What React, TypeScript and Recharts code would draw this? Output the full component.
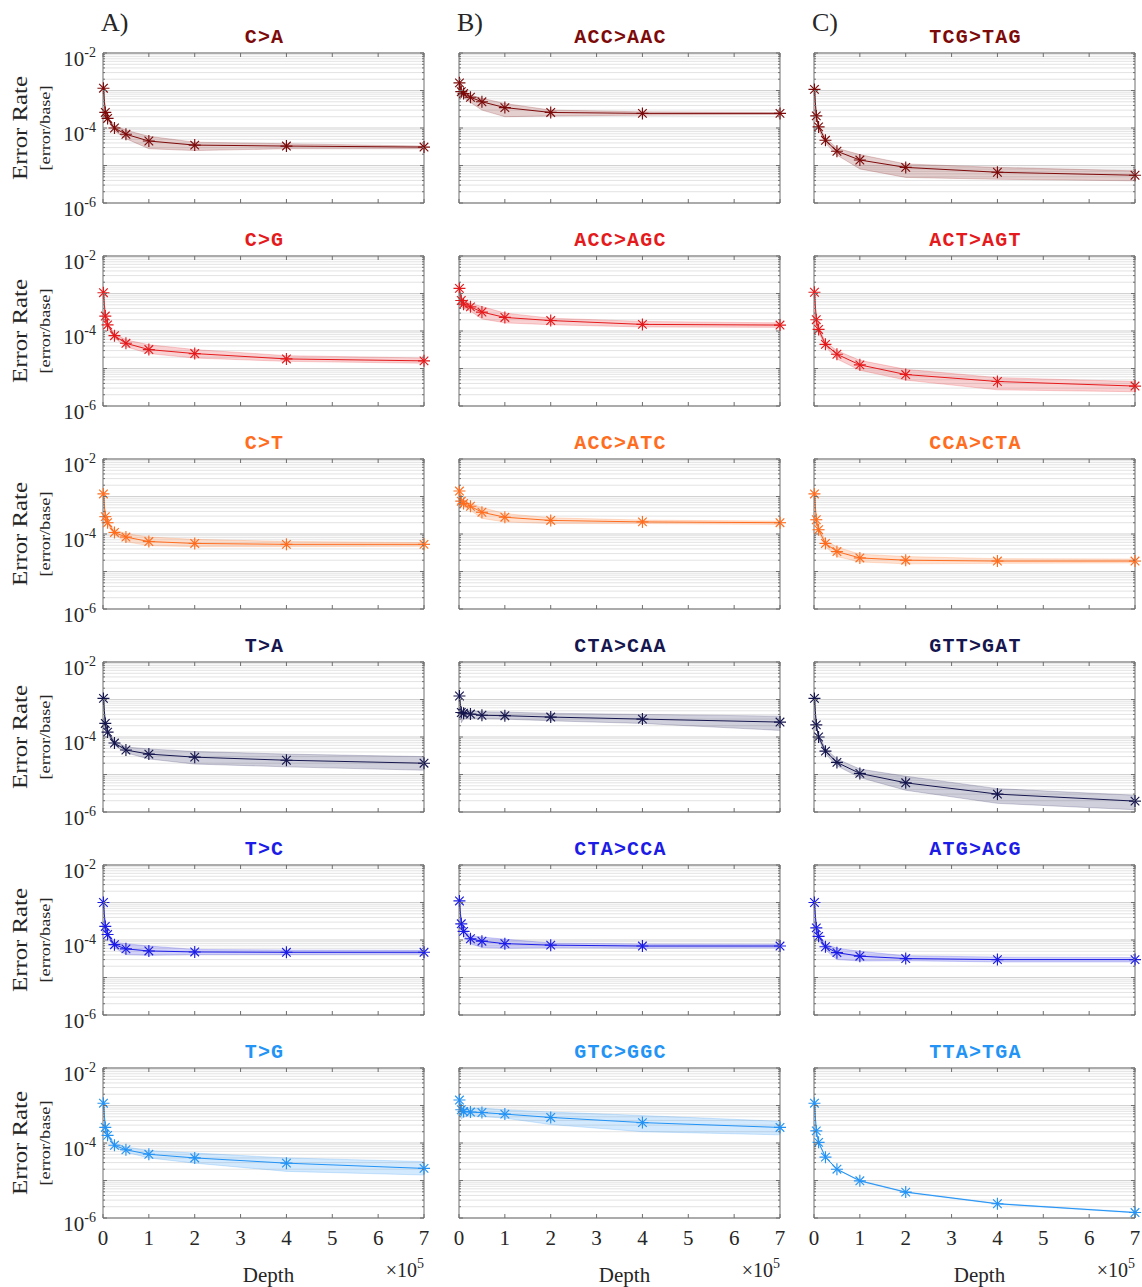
import React from "react";
import { Area, CartesianGrid, ComposedChart, Line, ReferenceArea, XAxis, YAxis } from "recharts";

// sequencing depths (reads) and axis ticks
const DEPTHS = [1000, 5000, 10000, 25000, 50000, 100000, 200000, 400000, 700000];
const X_TICKS = [0, 100000, 200000, 300000, 400000, 500000, 600000, 700000];
const Y_MAJOR = [1e-6, 1e-5, 1e-4, 1e-3, 1e-2];
const Y_MINOR = [1e-6, 1e-5, 1e-4, 1e-3].flatMap((d) => [2, 3, 4, 5, 6, 7, 8, 9].map((m) => m * d));
const Y_ALL = [...Y_MAJOR, ...Y_MINOR].sort((a, b) => a - b);

const ROW_COLORS = ["#7d0a0a", "#e41a1c", "#ff6d1f", "#16164f", "#1c1ce6", "#2393f5"];

// column A: single-base substitutions
const CA_RATE = [1.15e-3, 2.6e-4, 1.8e-4, 1.0e-4, 6.8e-5, 4.5e-5, 3.5e-5, 3.3e-5, 3.1e-5];
const CA_LO = [1.1e-3, 2.4e-4, 1.6e-4, 8.3e-5, 5.2e-5, 2.8e-5, 2.5e-5, 2.8e-5, 2.8e-5];
const CA_HI = [1.2e-3, 2.8e-4, 1.95e-4, 1.18e-4, 8.7e-5, 6.0e-5, 4.2e-5, 3.8e-5, 3.3e-5];

const CG_RATE = [1.05e-3, 2.5e-4, 1.45e-4, 7.5e-5, 4.7e-5, 3.2e-5, 2.5e-5, 1.8e-5, 1.6e-5];
const CG_LO = [1.0e-3, 2.3e-4, 1.3e-4, 6.5e-5, 3.8e-5, 2.5e-5, 1.9e-5, 1.55e-5, 1.38e-5];
const CG_HI = [1.1e-3, 2.7e-4, 1.6e-4, 8.5e-5, 5.8e-5, 4.3e-5, 3.2e-5, 2.2e-5, 1.9e-5];

const CT_RATE = [1.17e-3, 2.9e-4, 2.0e-4, 1.1e-4, 8.3e-5, 6.3e-5, 5.6e-5, 5.3e-5, 5.3e-5];
const CT_LO = [1.12e-3, 2.6e-4, 1.75e-4, 9.5e-5, 6.2e-5, 4.9e-5, 4.6e-5, 4.6e-5, 4.7e-5];
const CT_HI = [1.22e-3, 3.2e-4, 2.2e-4, 1.3e-4, 1.03e-4, 8.3e-5, 7.2e-5, 6.3e-5, 5.9e-5];

const TA_RATE = [1.07e-3, 2.3e-4, 1.35e-4, 6.9e-5, 4.5e-5, 3.5e-5, 2.9e-5, 2.4e-5, 2.0e-5];
const TA_LO = [1.02e-3, 2.1e-4, 1.2e-4, 6.0e-5, 3.8e-5, 2.6e-5, 1.9e-5, 1.6e-5, 1.3e-5];
const TA_HI = [1.12e-3, 2.5e-4, 1.5e-4, 8.0e-5, 5.4e-5, 4.8e-5, 4.1e-5, 3.5e-5, 3.0e-5];

const TC_RATE = [1.0e-3, 2.3e-4, 1.4e-4, 7.5e-5, 5.8e-5, 5.1e-5, 4.8e-5, 4.7e-5, 4.7e-5];
const TC_LO = [0.95e-3, 2.1e-4, 1.2e-4, 6.2e-5, 4.1e-5, 3.9e-5, 4.1e-5, 4.1e-5, 4.2e-5];
const TC_HI = [1.05e-3, 2.5e-4, 1.55e-4, 8.7e-5, 8.0e-5, 6.9e-5, 5.6e-5, 5.4e-5, 5.3e-5];

const TG_RATE = [1.15e-3, 2.6e-4, 1.6e-4, 8.7e-5, 6.6e-5, 5.0e-5, 4.0e-5, 2.9e-5, 2.1e-5];
const TG_LO = [1.1e-3, 2.4e-4, 1.45e-4, 7.8e-5, 5.7e-5, 4.0e-5, 2.9e-5, 1.75e-5, 1.4e-5];
const TG_HI = [1.2e-3, 2.8e-4, 1.75e-4, 9.8e-5, 7.8e-5, 6.3e-5, 5.4e-5, 4.0e-5, 3.2e-5];

// column B
const AAC_RATE = [1.6e-3, 9.3e-4, 8.3e-4, 6.6e-4, 5.0e-4, 3.5e-4, 2.6e-4, 2.45e-4, 2.45e-4];
const AAC_LO = [1.5e-3, 7.5e-4, 6.5e-4, 4.8e-4, 3.0e-4, 2.0e-4, 2.1e-4, 2.2e-4, 2.3e-4];
const AAC_HI = [1.7e-3, 1.05e-3, 9.5e-4, 7.5e-4, 6.2e-4, 4.5e-4, 3.0e-4, 2.7e-4, 2.6e-4];

const AGC_RATE = [1.37e-3, 6.5e-4, 5.2e-4, 4.4e-4, 3.2e-4, 2.3e-4, 1.9e-4, 1.5e-4, 1.44e-4];
const AGC_LO = [1.3e-3, 4.5e-4, 4.0e-4, 3.4e-4, 2.1e-4, 1.65e-4, 1.47e-4, 1.28e-4, 1.25e-4];
const AGC_HI = [1.45e-3, 8.3e-4, 6.5e-4, 5.4e-4, 4.5e-4, 3.0e-4, 2.2e-4, 1.8e-4, 1.65e-4];

const ATC_RATE = [1.4e-3, 7.5e-4, 6.5e-4, 5.5e-4, 3.8e-4, 2.8e-4, 2.3e-4, 2.1e-4, 2.0e-4];
const ATC_LO = [1.3e-3, 6.3e-4, 5.4e-4, 4.3e-4, 2.6e-4, 2.1e-4, 1.9e-4, 1.9e-4, 1.8e-4];
const ATC_HI = [1.5e-3, 8.5e-4, 7.6e-4, 6.5e-4, 5.1e-4, 3.5e-4, 2.7e-4, 2.35e-4, 2.2e-4];

const CAA_RATE = [1.24e-3, 4.5e-4, 4.3e-4, 4.1e-4, 3.8e-4, 3.7e-4, 3.4e-4, 3.0e-4, 2.5e-4];
const CAA_LO = [1.18e-3, 2.4e-4, 3.0e-4, 3.1e-4, 3.1e-4, 3.0e-4, 2.7e-4, 2.3e-4, 1.5e-4];
const CAA_HI = [1.3e-3, 5.5e-4, 5.2e-4, 5.0e-4, 4.7e-4, 4.6e-4, 4.3e-4, 4.0e-4, 3.6e-4];

const CCA_RATE = [1.1e-3, 2.7e-4, 1.7e-4, 1.08e-4, 9.3e-5, 8.0e-5, 7.3e-5, 6.9e-5, 6.9e-5];
const CCA_LO = [1.05e-3, 2.3e-4, 1.3e-4, 8.0e-5, 6.3e-5, 6.0e-5, 6.2e-5, 6.0e-5, 6.1e-5];
const CCA_HI = [1.15e-3, 3.0e-4, 2.0e-4, 1.3e-4, 1.2e-4, 1.05e-4, 8.3e-5, 7.8e-5, 7.7e-5];

const GGC_RATE = [1.4e-3, 7.7e-4, 6.9e-4, 6.7e-4, 6.5e-4, 5.9e-4, 4.8e-4, 3.5e-4, 2.6e-4];
const GGC_LO = [1.3e-3, 4.3e-4, 5.0e-4, 5.3e-4, 5.1e-4, 4.6e-4, 3.1e-4, 2.0e-4, 1.65e-4];
const GGC_HI = [1.5e-3, 9.6e-4, 8.8e-4, 8.4e-4, 8.6e-4, 7.7e-4, 6.7e-4, 5.4e-4, 3.8e-4];

// column C
const TAG_RATE = [1.07e-3, 2.1e-4, 1.07e-4, 4.7e-5, 2.4e-5, 1.4e-5, 8.9e-6, 6.6e-6, 5.5e-6];
const TAG_LO = [1.02e-3, 1.9e-4, 9.0e-5, 4.0e-5, 1.9e-5, 8.1e-6, 4.8e-6, 4.3e-6, 3.9e-6];
const TAG_HI = [1.12e-3, 2.3e-4, 1.2e-4, 5.4e-5, 2.9e-5, 1.95e-5, 1.1e-5, 8.9e-6, 7.2e-6];

const AGT_RATE = [1.08e-3, 2.0e-4, 1.1e-4, 4.4e-5, 2.4e-5, 1.25e-5, 6.9e-6, 4.5e-6, 3.4e-6];
const AGT_LO = [1.03e-3, 1.8e-4, 9.5e-5, 3.8e-5, 1.8e-5, 9.0e-6, 4.9e-6, 2.7e-6, 2.4e-6];
const AGT_HI = [1.13e-3, 2.2e-4, 1.25e-4, 5.1e-5, 3.0e-5, 1.65e-5, 9.5e-6, 5.7e-6, 4.5e-6];

const CTA_RATE = [1.17e-3, 2.4e-4, 1.3e-4, 5.6e-5, 3.4e-5, 2.3e-5, 2.0e-5, 1.9e-5, 1.9e-5];
const CTA_LO = [1.12e-3, 2.2e-4, 1.15e-4, 4.6e-5, 2.5e-5, 1.8e-5, 1.6e-5, 1.65e-5, 1.7e-5];
const CTA_HI = [1.22e-3, 2.6e-4, 1.5e-4, 6.8e-5, 4.5e-5, 2.9e-5, 2.5e-5, 2.2e-5, 2.15e-5];

const GAT_RATE = [1.07e-3, 2.1e-4, 1.0e-4, 4.2e-5, 2.1e-5, 1.07e-5, 6.0e-6, 3.0e-6, 1.95e-6];
const GAT_LO = [1.02e-3, 1.9e-4, 8.8e-5, 3.6e-5, 1.7e-5, 8.3e-6, 3.8e-6, 1.7e-6, 1.15e-6];
const GAT_HI = [1.12e-3, 2.3e-4, 1.15e-4, 4.9e-5, 2.6e-5, 1.4e-5, 9.0e-6, 4.2e-6, 2.8e-6];

const ACG_RATE = [1.0e-3, 2.1e-4, 1.25e-4, 6.6e-5, 4.6e-5, 3.7e-5, 3.2e-5, 3.0e-5, 3.0e-5];
const ACG_LO = [0.95e-3, 1.9e-4, 1.05e-4, 5.5e-5, 3.0e-5, 2.75e-5, 2.8e-5, 2.6e-5, 2.6e-5];
const ACG_HI = [1.05e-3, 2.3e-4, 1.45e-4, 7.8e-5, 6.0e-5, 5.0e-5, 3.8e-5, 3.5e-5, 3.4e-5];

const TGA_RATE = [1.15e-3, 2.1e-4, 1.04e-4, 4.2e-5, 2.0e-5, 9.8e-6, 4.9e-6, 2.4e-6, 1.4e-6];
const TGA_LO = [1.12e-3, 2.05e-4, 1.01e-4, 4.1e-5, 1.95e-5, 9.5e-6, 4.75e-6, 2.33e-6, 1.36e-6];
const TGA_HI = [1.18e-3, 2.15e-4, 1.07e-4, 4.3e-5, 2.05e-5, 1.01e-5, 5.05e-6, 2.47e-6, 1.44e-6];

const PANELS = [
  { title: "C>A", row: 0, col: 0, rate: CA_RATE, lo: CA_LO, hi: CA_HI },
  { title: "ACC>AAC", row: 0, col: 1, rate: AAC_RATE, lo: AAC_LO, hi: AAC_HI },
  { title: "TCG>TAG", row: 0, col: 2, rate: TAG_RATE, lo: TAG_LO, hi: TAG_HI },
  { title: "C>G", row: 1, col: 0, rate: CG_RATE, lo: CG_LO, hi: CG_HI },
  { title: "ACC>AGC", row: 1, col: 1, rate: AGC_RATE, lo: AGC_LO, hi: AGC_HI },
  { title: "ACT>AGT", row: 1, col: 2, rate: AGT_RATE, lo: AGT_LO, hi: AGT_HI },
  { title: "C>T", row: 2, col: 0, rate: CT_RATE, lo: CT_LO, hi: CT_HI },
  { title: "ACC>ATC", row: 2, col: 1, rate: ATC_RATE, lo: ATC_LO, hi: ATC_HI },
  { title: "CCA>CTA", row: 2, col: 2, rate: CTA_RATE, lo: CTA_LO, hi: CTA_HI },
  { title: "T>A", row: 3, col: 0, rate: TA_RATE, lo: TA_LO, hi: TA_HI },
  { title: "CTA>CAA", row: 3, col: 1, rate: CAA_RATE, lo: CAA_LO, hi: CAA_HI },
  { title: "GTT>GAT", row: 3, col: 2, rate: GAT_RATE, lo: GAT_LO, hi: GAT_HI },
  { title: "T>C", row: 4, col: 0, rate: TC_RATE, lo: TC_LO, hi: TC_HI },
  { title: "CTA>CCA", row: 4, col: 1, rate: CCA_RATE, lo: CCA_LO, hi: CCA_HI },
  { title: "ATG>ACG", row: 4, col: 2, rate: ACG_RATE, lo: ACG_LO, hi: ACG_HI },
  { title: "T>G", row: 5, col: 0, rate: TG_RATE, lo: TG_LO, hi: TG_HI },
  { title: "GTC>GGC", row: 5, col: 1, rate: GGC_RATE, lo: GGC_LO, hi: GGC_HI },
  { title: "TTA>TGA", row: 5, col: 2, rate: TGA_RATE, lo: TGA_LO, hi: TGA_HI },
];

const PANEL_LABELS = ["A)", "B)", "C)"];

// layout
const COL_X = [103, 459, 814];
const ROW_Y = [53, 256, 459, 662, 865, 1068];
const PW = 321;
const PH = 150;
const YW = 50;
const MT = 10;
const MR = 12;
const FRAME = "#6e6e6e";
const INK = "#262626";
const SERIF = '"Liberation Serif", "DejaVu Serif", serif';
const MONO = '"Liberation Mono", "DejaVu Sans Mono", monospace';

function Star({ cx, cy, color }: { cx: number; cy: number; color: string }) {
  const s = 6;
  const d = 4.3;
  return (
    <g stroke={color} strokeWidth={1.15}>
      <line x1={cx - s} y1={cy} x2={cx + s} y2={cy} />
      <line x1={cx} y1={cy - s} x2={cx} y2={cy + s} />
      <line x1={cx - d} y1={cy - d} x2={cx + d} y2={cy + d} />
      <line x1={cx - d} y1={cy + d} x2={cx + d} y2={cy - d} />
    </g>
  );
}

function XTick(props: any) {
  const { x, payload, showLabel } = props;
  return (
    <g>
      <line x1={x} x2={x} y1={MT + PH} y2={MT + PH - 4} stroke={FRAME} />
      <line x1={x} x2={x} y1={MT} y2={MT + 4} stroke={FRAME} />
      {showLabel && (
        <text x={x} y={MT + PH + 27} textAnchor="middle" fontSize={21} fontFamily={SERIF} fill={INK}>
          {Math.round(payload.value / 1e5)}
        </text>
      )}
    </g>
  );
}

function YTick(props: any) {
  const { y, payload, showLabel } = props;
  const v = payload.value;
  const exp = Math.round(Math.log10(v));
  const major = Math.abs(v / Math.pow(10, exp) - 1) < 1e-6;
  const len = major ? 4 : 2;
  return (
    <g>
      <line x1={YW} x2={YW + len} y1={y} y2={y} stroke={FRAME} />
      <line x1={YW + PW - len} x2={YW + PW} y1={y} y2={y} stroke={FRAME} />
      {showLabel && major && exp % 2 === 0 && (
        <text x={YW - 7} y={y + 13} textAnchor="end" fontFamily={SERIF} fill={INK}>
          <tspan fontSize={21}>10</tspan>
          <tspan fontSize={14} dy={-9}>
            {exp}
          </tspan>
        </text>
      )}
    </g>
  );
}

function Panel({ p }: { p: (typeof PANELS)[number] }) {
  const color = ROW_COLORS[p.row];
  const bottom = p.row === 5;
  const xh = bottom ? 40 : 22;
  const data = DEPTHS.map((x, i) => ({ x, rate: p.rate[i], band: [p.lo[i], p.hi[i]] }));
  return (
    <div style={{ position: "absolute", left: COL_X[p.col] - YW, top: ROW_Y[p.row] - MT }}>
      <ComposedChart
        width={YW + PW + MR}
        height={MT + PH + xh}
        data={data}
        margin={{ top: MT, right: MR, bottom: 0, left: 0 }}
      >
        <CartesianGrid vertical={false} horizontalValues={Y_MINOR} stroke="#e3e3e3" strokeWidth={1} />
        <CartesianGrid vertical={false} horizontalValues={Y_MAJOR} stroke="#d2d2d2" strokeWidth={1.2} />
        <XAxis
          dataKey="x"
          type="number"
          domain={[0, 700000]}
          ticks={X_TICKS}
          interval={0}
          axisLine={false}
          tickLine={false}
          height={xh}
          tick={(t: any) => <XTick {...t} showLabel={bottom} />}
        />
        <YAxis
          type="number"
          scale="log"
          domain={[1e-6, 1e-2]}
          ticks={Y_ALL}
          interval={0}
          allowDataOverflow
          axisLine={false}
          tickLine={false}
          width={YW}
          tick={(t: any) => <YTick {...t} showLabel={p.col === 0} />}
        />
        <Area
          dataKey="band"
          type="linear"
          stroke={color}
          strokeOpacity={0.25}
          strokeWidth={0.8}
          fill={color}
          fillOpacity={0.2}
          isAnimationActive={false}
          dot={false}
          activeDot={false}
        />
        <Line
          dataKey="rate"
          type="linear"
          stroke={color}
          strokeWidth={1}
          isAnimationActive={false}
          activeDot={false}
          dot={(d: any) => <Star key={`s${d.index}`} cx={d.cx} cy={d.cy} color={color} />}
        />
        <ReferenceArea x1={0} x2={700000} y1={1e-6} y2={1e-2} fill="none" stroke={FRAME} strokeWidth={1} />
      </ComposedChart>
    </div>
  );
}

export default function App() {
  return (
    <div style={{ position: "absolute", left: 0, top: 0, width: 1142, height: 1287, background: "#fff" }}>
      {PANELS.map((p) => (
        <Panel key={p.title} p={p} />
      ))}
      <svg
        width={1142}
        height={1287}
        style={{ position: "absolute", left: 0, top: 0, pointerEvents: "none" }}
      >
        {PANEL_LABELS.map((l, c) => (
          <text key={l} x={COL_X[c] - 2} y={31} fontSize={26} fontFamily={SERIF} fill={INK}>
            {l}
          </text>
        ))}
        {PANELS.map((p) => (
          <text
            key={`t-${p.title}`}
            x={COL_X[p.col] + PW / 2 + 1}
            y={ROW_Y[p.row] - 10}
            textAnchor="middle"
            fontSize={20}
            fontWeight="bold"
            letterSpacing={1.2}
            fontFamily={MONO}
            fill={ROW_COLORS[p.row]}
          >
            {p.title}
          </text>
        ))}
        {ROW_Y.map((y) => {
          const cy = y + PH / 2;
          return (
            <g key={`yl-${y}`} fontFamily={SERIF} fill={INK}>
              <text
                x={27}
                y={cy}
                transform={`rotate(-90 27 ${cy})`}
                textAnchor="middle"
                fontSize={20}
                textLength={104}
                lengthAdjust="spacingAndGlyphs"
              >
                Error Rate
              </text>
              <text
                x={50}
                y={cy}
                transform={`rotate(-90 50 ${cy})`}
                textAnchor="middle"
                fontSize={14}
                textLength={85}
                lengthAdjust="spacingAndGlyphs"
              >
                [error/base]
              </text>
            </g>
          );
        })}
        {COL_X.map((x) => (
          <g key={`xl-${x}`} fontFamily={SERIF} fill={INK}>
            <text x={x + PW / 2 + 5} y={1282} textAnchor="middle" fontSize={21}>
              Depth
            </text>
            <text x={x + PW} y={1277} textAnchor="end">
              <tspan fontSize={20}>×10</tspan>
              <tspan fontSize={14} dy={-9}>
                5
              </tspan>
            </text>
          </g>
        ))}
      </svg>
    </div>
  );
}
